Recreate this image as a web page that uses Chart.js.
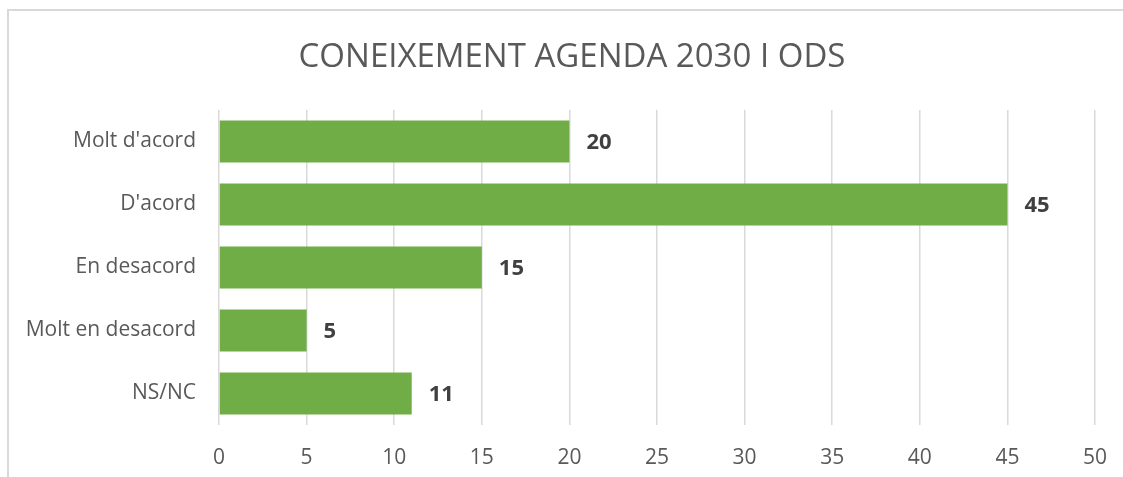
<!DOCTYPE html>
<html>
<head>
<meta charset="utf-8">
<script src="https://cdn.jsdelivr.net/npm/chart.js@4"></script>
<style>
  body { margin: 0; background: #fff; overflow: hidden; }
  #frame {
    position: absolute; left: 7px; top: 9px;
    width: 1114px; height: 466px;
    border-left: 2px solid #d9d9d9; border-top: 2px solid #d9d9d9;
  }
  #chartData { display: block; }
</style>
</head>
<body>
<div id="frame">
  <canvas id="chartData" width="1114" height="466"></canvas>
</div>
<script>
let categories = ["Molt d'acord", "D'acord", "En desacord", "Molt en desacord", "NS/NC"];
let values = [20, 45, 15, 5, 11];
let tickValues = [0, 5, 10, 15, 20, 25, 30, 35, 40, 45, 50];
let chartTitle = "CONEIXEMENT AGENDA 2030 I ODS";

const FONT = "'Open Sans', sans-serif";

// title drawn by hand so it can sit a bit right of the canvas centre, like the original
const titlePlugin = {
    id: "titlePlugin",
    afterDraw(chart) {
        const ctx = chart.ctx;
        ctx.save();
        ctx.font = "33px " + FONT;
        ctx.fillStyle = "#595959";
        ctx.textAlign = "center";
        ctx.textBaseline = "middle";
        ctx.fillText(chartTitle, 563, 47);
        ctx.restore();
    }
};

// simple data label plugin (no datalabels lib available)
const barLabels = {
    id: "barLabels",
    afterDatasetsDraw(chart) {
        const ctx = chart.ctx;
        const meta = chart.getDatasetMeta(0);
        ctx.save();
        ctx.font = "bold 22px " + FONT;
        ctx.fillStyle = "#404040";
        ctx.textAlign = "left";
        ctx.textBaseline = "middle";
        meta.data.forEach((bar, i) => {
            ctx.fillText(String(values[i]), bar.x + 17, bar.y + 1);
        });
        ctx.restore();
    }
};

const ctx = document.getElementById("chartData").getContext("2d");
let myChart = new Chart(ctx, {
    type: "bar",
    data: {
        labels: categories,
        datasets: [{
            data: values,
            backgroundColor: "#70ad47",
            borderWidth: 0,
            barPercentage: 0.667,
            categoryPercentage: 1
        }]
    },
    plugins: [barLabels, titlePlugin],
    options: {
        indexAxis: "y",
        responsive: false,
        animation: false,
        layout: { padding: { left: 0, right: 28, top: 99, bottom: 0 } },
        plugins: {
            legend: { display: false },
            tooltip: { enabled: false },
            title: { display: false }
        },
        scales: {
            x: {
                min: 0,
                max: 50,
                afterBuildTicks(scale) {
                    scale.ticks = tickValues.map(v => ({ value: v }));
                },
                afterFit(scale) {
                    scale.height = 52;
                    scale.paddingLeft = 0;
                    scale.paddingRight = 0;
                },
                grid: { color: "#d9d9d9", lineWidth: 1.5, drawTicks: false },
                border: { display: false },
                ticks: {
                    color: "#595959",
                    font: { family: FONT, size: 21 },
                    padding: 20
                }
            },
            y: {
                afterFit(scale) { scale.width = 210; },
                grid: { display: false, drawTicks: false },
                border: { display: false },
                ticks: {
                    color: "#595959",
                    font: { family: FONT, size: 21 },
                    padding: 23
                }
            }
        }
    }
});
</script>
</body>
</html>
